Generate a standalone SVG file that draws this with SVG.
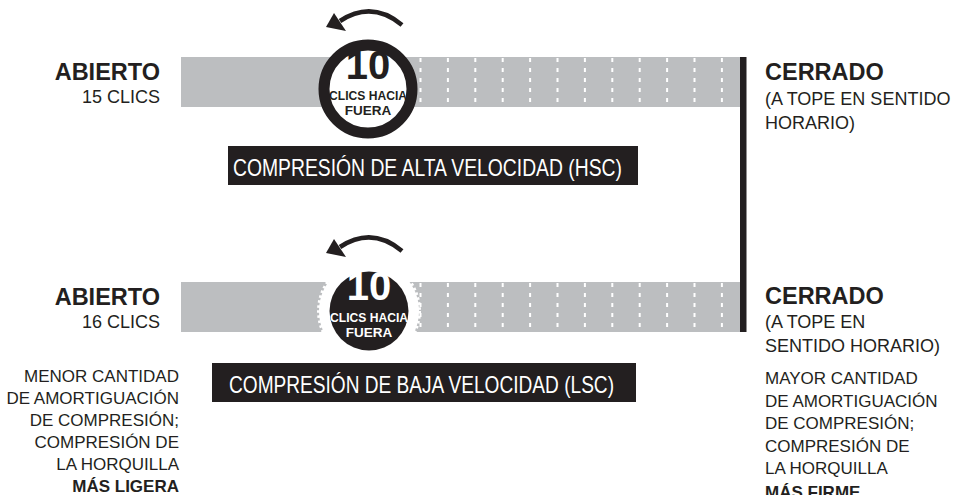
<svg xmlns="http://www.w3.org/2000/svg" width="962" height="495" viewBox="0 0 962 495">
<style>
  .t{font-family:"Liberation Sans",Arial,sans-serif;fill:#231f20}
  .b{font-weight:bold}
  .h{font-size:23.5px;font-weight:bold}
  .s{font-size:18px}
  .p{font-size:17px}
  .bar{fill:#bcbec0}
  .dash{stroke:#ffffff;stroke-width:2;stroke-dasharray:4 6}
  .box{fill:#231f20}
  .bt{font-family:"Liberation Sans",Arial,sans-serif;fill:#ffffff;font-size:24.5px}
  .ct{font-family:"Liberation Sans",Arial,sans-serif;font-weight:bold;text-anchor:middle}
  .arr{fill:none;stroke:#231f20;stroke-width:4.5}
</style>
<defs>
  <g id="dashes">
    <line x1="420.5" y1="0" x2="420.5" y2="50"/>
    <line x1="447.9" y1="0" x2="447.9" y2="50"/>
    <line x1="475.3" y1="0" x2="475.3" y2="50"/>
    <line x1="502.7" y1="0" x2="502.7" y2="50"/>
    <line x1="530.1" y1="0" x2="530.1" y2="50"/>
    <line x1="557.5" y1="0" x2="557.5" y2="50"/>
    <line x1="584.9" y1="0" x2="584.9" y2="50"/>
    <line x1="612.3" y1="0" x2="612.3" y2="50"/>
    <line x1="639.7" y1="0" x2="639.7" y2="50"/>
    <line x1="667.1" y1="0" x2="667.1" y2="50"/>
    <line x1="694.5" y1="0" x2="694.5" y2="50"/>
    <line x1="721.9" y1="0" x2="721.9" y2="50"/>
  </g>
</defs>

<!-- HSC track -->
<g id="hsc-track">
  <rect class="bar" x="181" y="57" width="560" height="50"/>
  <g class="dash" transform="translate(0,58)"><use href="#dashes"/></g>
</g>

<!-- LSC track -->
<g id="lsc-track">
  <rect class="bar" x="181" y="282" width="560" height="50"/>
  <g class="dash" transform="translate(0,283)"><use href="#dashes"/></g>
</g>

<!-- closed stop line -->
<g id="stop-line">
  <rect x="740" y="57" width="6.5" height="275" fill="#231f20"/>
</g>

<!-- HSC knob -->
<g id="hsc-knob">
  <path class="arr" d="M 402 25 Q 372 0 340 21"/>
  <polygon points="326,27 334,13 346,31" fill="#231f20"/>
  <circle cx="368" cy="89" r="44" fill="#ffffff" stroke="#231f20" stroke-width="11"/>
  <text class="ct" x="368" y="78.5" font-size="40" fill="#231f20">10</text>
  <text class="ct" x="368" y="99.5" font-size="13.5" fill="#231f20" textLength="78" lengthAdjust="spacingAndGlyphs">CLICS HACIA</text>
  <text class="ct" x="368" y="115" font-size="13.5" fill="#231f20">FUERA</text>
</g>

<!-- LSC knob -->
<g id="lsc-knob">
  <path class="arr" d="M 402 251 Q 372 226 340 247"/>
  <polygon points="326,253 334,239 346,257" fill="#231f20"/>
  <circle cx="369" cy="311" r="50" fill="#ffffff" stroke="#ffffff" stroke-width="4" stroke-dasharray="2.5 2.5"/>
  <circle cx="369" cy="311" r="39.5" fill="#231f20"/>
  <text class="ct" x="369" y="300" font-size="40" fill="#ffffff">10</text>
  <text class="ct" x="369" y="321.5" font-size="13.5" fill="#ffffff" textLength="78" lengthAdjust="spacingAndGlyphs">CLICS HACIA</text>
  <text class="ct" x="369" y="337" font-size="13.5" fill="#ffffff">FUERA</text>
</g>

<!-- HSC label -->
<g id="hsc-label">
  <rect class="box" x="228" y="146" width="410" height="39"/>
  <text class="bt" x="233" y="175.5" textLength="389" lengthAdjust="spacingAndGlyphs">COMPRESIÓN DE ALTA VELOCIDAD (HSC)</text>
</g>

<!-- LSC label -->
<g id="lsc-label">
  <rect class="box" x="212" y="363" width="424" height="39"/>
  <text class="bt" x="229" y="392.5" textLength="385" lengthAdjust="spacingAndGlyphs">COMPRESIÓN DE BAJA VELOCIDAD (LSC)</text>
</g>

<!-- HSC open -->
<g id="hsc-open" text-anchor="end">
  <text class="t h" x="160" y="80">ABIERTO</text>
  <text class="t s" x="160" y="103">15 CLICS</text>
</g>

<!-- HSC closed -->
<g id="hsc-closed">
  <text class="t h" x="765" y="80">CERRADO</text>
  <text class="t s" x="765" y="105">(A TOPE EN SENTIDO</text>
  <text class="t s" x="765" y="129">HORARIO)</text>
</g>

<!-- LSC open -->
<g id="lsc-open" text-anchor="end">
  <text class="t h" x="160" y="305">ABIERTO</text>
  <text class="t s" x="160" y="328">16 CLICS</text>
  <text class="t p" x="179" y="382">MENOR CANTIDAD</text>
  <text class="t p" x="179" y="404">DE AMORTIGUACIÓN</text>
  <text class="t p" x="179" y="426">DE COMPRESIÓN;</text>
  <text class="t p" x="179" y="448">COMPRESIÓN DE</text>
  <text class="t p" x="179" y="470">LA HORQUILLA</text>
  <text class="t p b" x="179" y="492">MÁS LIGERA</text>
</g>

<!-- LSC closed -->
<g id="lsc-closed">
  <text class="t h" x="765" y="304">CERRADO</text>
  <text class="t s" x="765" y="328">(A TOPE EN</text>
  <text class="t s" x="765" y="352">SENTIDO HORARIO)</text>
  <text class="t p" x="765" y="384">MAYOR CANTIDAD</text>
  <text class="t p" x="765" y="406.5">DE AMORTIGUACIÓN</text>
  <text class="t p" x="765" y="429">DE COMPRESIÓN;</text>
  <text class="t p" x="765" y="451.5">COMPRESIÓN DE</text>
  <text class="t p" x="765" y="474">LA HORQUILLA</text>
  <text class="t p b" x="765" y="498">MÁS FIRME</text>
</g>
</svg>
